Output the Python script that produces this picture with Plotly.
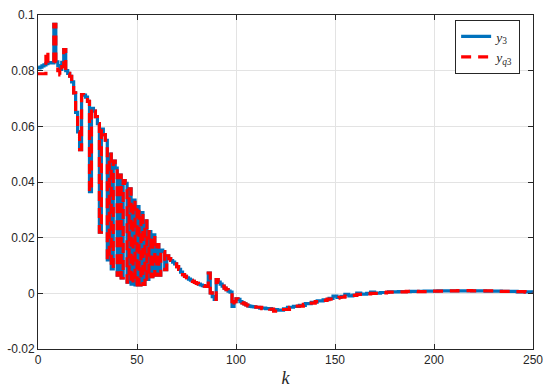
import plotly.graph_objects as go

# ---- data (stairs, k = sample index) ----
# k = 0 .. 109, one value per sample
y3_head = [
    0.0810, 0.0813, 0.0817, 0.0821, 0.0825, 0.0828, 0.0829, 0.0828, 0.0966, 0.0832,
    0.0818, 0.0805, 0.0830, 0.0876, 0.0800, 0.0790, 0.0780, 0.0760, 0.0720, 0.0650,
    0.0580, 0.0516, 0.0714, 0.0712, 0.0705, 0.0690, 0.0365, 0.0665, 0.0655, 0.0635,
    0.0610, 0.0220, 0.0590, 0.0570, 0.0550, 0.0120, 0.0500, 0.0088, 0.0475, 0.0450,
    0.0065, 0.0425, 0.0055, 0.0405, 0.0395, 0.0040, 0.0375, 0.0033, 0.0335, 0.0030,
    0.0312, 0.0030, 0.0290, 0.0032, 0.0260, 0.0050, 0.0222, 0.0060, 0.0210, 0.0065,
    0.0175, 0.0065, 0.0155, 0.0150, 0.0085, 0.0135, 0.0125, 0.0118, 0.0112, 0.0106,
    0.0096, 0.0086, 0.0076, 0.0067, 0.0061, 0.0056, 0.0051, 0.0047, 0.0043, 0.0039,
    0.0036, 0.0033, 0.0030, 0.0028, 0.0026, 0.0025, 0.0073, 0.0002, -0.0012, -0.0022,
    0.0049, 0.0040, 0.0033, 0.0026, 0.0019, 0.0013, 0.0008, 0.0004, -0.0047, -0.0030,
    -0.0020, -0.0022, -0.0030, -0.0034, -0.0038, -0.0042, -0.0045, -0.0047, -0.0048, -0.0049,
]
yq3_head = [
    0.0789, 0.0789, 0.0789, 0.0789, 0.0870, 0.0828, 0.0829, 0.0828, 0.0966, 0.0832,
    0.0800, 0.0785, 0.0815, 0.0876, 0.0800, 0.0790, 0.0780, 0.0760, 0.0720, 0.0650,
    0.0580, 0.0516, 0.0714, 0.0712, 0.0705, 0.0690, 0.0365, 0.0665, 0.0655, 0.0635,
    0.0610, 0.0220, 0.0590, 0.0570, 0.0550, 0.0120, 0.0500, 0.0088, 0.0475, 0.0450,
    0.0065, 0.0425, 0.0055, 0.0405, 0.0395, 0.0040, 0.0375, 0.0033, 0.0335, 0.0030,
    0.0312, 0.0030, 0.0290, 0.0032, 0.0260, 0.0050, 0.0222, 0.0060, 0.0210, 0.0065,
    0.0175, 0.0065, 0.0155, 0.0150, 0.0085, 0.0135, 0.0125, 0.0118, 0.0112, 0.0106,
    0.0096, 0.0086, 0.0076, 0.0067, 0.0061, 0.0056, 0.0051, 0.0047, 0.0043, 0.0039,
    0.0036, 0.0033, 0.0030, 0.0028, 0.0026, 0.0025, 0.0073, 0.0002, -0.0012, -0.0022,
    0.0049, 0.0040, 0.0033, 0.0026, 0.0019, 0.0013, 0.0008, 0.0004, -0.0047, -0.0030,
    -0.0020, -0.0022, -0.0030, -0.0034, -0.0038, -0.0042, -0.0045, -0.0047, -0.0048, -0.0049,
]
# k >= 110: change points of the stairs
k3_tail = [110, 112, 115, 118, 121, 124, 126, 129, 132, 135, 138, 141, 144, 147, 149, 151,
           153, 155, 157, 159, 161, 163, 166, 168, 170, 173, 177, 182, 188, 195, 202, 210,
           218, 226, 234, 242, 250]
y3_tail = [-0.0050, -0.0053, -0.0055, -0.0058, -0.0060, -0.0056, -0.0050, -0.0047, -0.0043,
           -0.0037, -0.0032, -0.0027, -0.0023, -0.0018, -0.0010, -0.0015, -0.0011, -0.0004,
           -0.0009, -0.0006, 0.0001, -0.0003, 0.0000, 0.0004, 0.0001, 0.0003, 0.0005, 0.0006,
           0.0007, 0.0008, 0.0009, 0.0009, 0.0009, 0.0008, 0.0007, 0.0005, 0.0003]
kq3_tail = [110, 113, 117, 119, 121, 123, 127, 130, 134, 137, 140, 143, 146, 149, 152, 155,
            158, 161, 164, 168, 172, 176, 181, 186, 192, 198, 205, 212, 219, 226, 232, 240,
            246, 250]
yq3_tail = [-0.0050, -0.0055, -0.0057, -0.0064, -0.0065, -0.0058, -0.0050, -0.0046, -0.0040,
            -0.0035, -0.0030, -0.0025, -0.0021, -0.0017, -0.0014, -0.0010, -0.0007, -0.0004,
            -0.0002, 0.0000, 0.0002, 0.0004, 0.0005, 0.0007, 0.0006, 0.0008, 0.0009, 0.0010,
            0.0009, 0.0009, 0.0007, 0.0006, 0.0004, 0.0003]

x_ticks = [0, 50, 100, 150, 200, 250]
y_ticks = [-0.02, 0, 0.02, 0.04, 0.06, 0.08, 0.1]
y_ticktext = ["-0.02", "0", "0.02", "0.04", "0.06", "0.08", "0.1"]

k3 = list(range(len(y3_head))) + k3_tail
y3 = y3_head + y3_tail
kq3 = list(range(len(yq3_head))) + kq3_tail
yq3 = yq3_head + yq3_tail

fig = go.Figure()
fig.add_trace(go.Scatter(
    x=k3, y=y3, mode="lines", line=dict(color="#0072BD", width=3.2, shape="hv"),
    name="<i>y</i><sub>3</sub>"))
fig.add_trace(go.Scatter(
    x=kq3, y=yq3, mode="lines",
    line=dict(color="#FF0000", width=3.2, shape="hv", dash="10px,7px"),
    name="<i>y</i><sub><i>q</i>3</sub>"))

axis_common = dict(
    showgrid=True, gridcolor="#e3e3e3", gridwidth=1,
    showline=True, linecolor="#262626", linewidth=1, mirror="ticks",
    ticks="inside", ticklen=5, tickcolor="#262626",
    tickfont=dict(family="Liberation Sans, Arial, sans-serif", size=12, color="#262626"),
    zeroline=False, automargin=False,
)
fig.update_xaxes(range=[0, 250], tickvals=x_ticks, **axis_common,
                 title=dict(text="<i>k</i>", standoff=4,
                            font=dict(family="Liberation Serif, serif", size=18, color="#262626")))
fig.update_yaxes(range=[-0.02, 0.1], tickvals=y_ticks, ticktext=y_ticktext, **axis_common)

fig.update_layout(
    width=550, height=391,
    margin=dict(l=38, r=17, t=15, b=42, autoexpand=False),
    paper_bgcolor="white", plot_bgcolor="white",
    showlegend=True,
    legend=dict(x=0.974, xanchor="right", y=0.985, yanchor="top",
                bgcolor="white", bordercolor="#262626", borderwidth=1,
                font=dict(family="Liberation Serif, serif", size=13.5, color="#262626"),
                tracegroupgap=0, itemwidth=30),
)

fig.write_html(
    "out.html",
    config={"displayModeBar": False},
    post_script="document.body.style.margin='0';document.body.style.overflow='hidden';",
)
